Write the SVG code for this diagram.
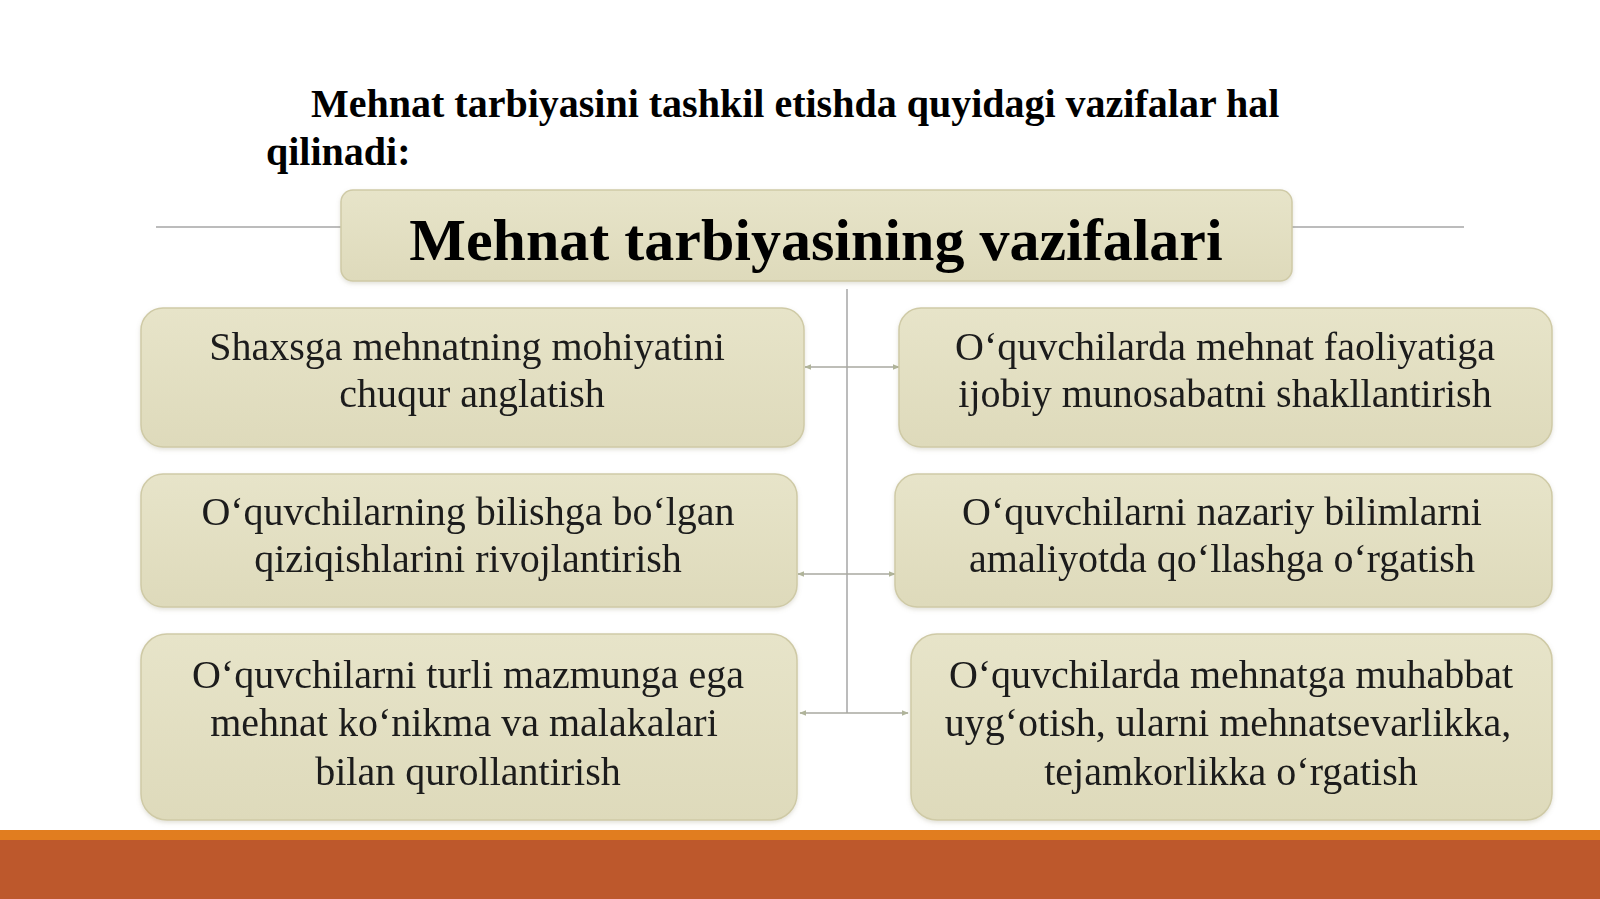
<svg xmlns="http://www.w3.org/2000/svg" width="1600" height="899" viewBox="0 0 1600 899">
<style>
.box{fill:url(#bg);stroke:#cfcaa6;stroke-width:1.5}
.t{font-family:"Liberation Serif","Times New Roman",serif;font-size:40px;fill:#1a1a1a;text-anchor:middle}
.title{font-family:"Liberation Serif","Times New Roman",serif;font-size:40px;font-weight:bold;fill:#000}
.head{font-family:"Liberation Serif","Times New Roman",serif;font-size:60px;font-weight:bold;fill:#000;text-anchor:middle}
.ln{stroke:#a6a6a6;stroke-width:1.5;fill:none}
.cn{stroke:#a8a8a0;stroke-width:1.5;fill:none;marker-start:url(#ah);marker-end:url(#ah)}
</style>
<defs>
<linearGradient id="bg" x1="0" y1="0" x2="0" y2="1">
<stop offset="0" stop-color="#e7e4c9"/>
<stop offset="1" stop-color="#dedabb"/>
</linearGradient>
<filter id="sh" x="-5%" y="-5%" width="110%" height="115%">
<feDropShadow dx="0" dy="2" stdDeviation="2" flood-color="#8a8660" flood-opacity="0.25"/>
</filter>
<marker id="ah" viewBox="0 0 10 10" refX="9" refY="5" markerWidth="7" markerHeight="7" orient="auto-start-reverse" markerUnits="userSpaceOnUse">
<path d="M0,1 L10,5 L0,9 Z" fill="#b0b49a"/>
</marker>
</defs>
<rect width="1600" height="899" fill="#ffffff"/>
<g id="title">
<text class="title" x="311" y="117">Mehnat tarbiyasini tashkil etishda quyidagi vazifalar hal</text>
<text class="title" x="266" y="165">qilinadi:</text>
</g>
<g id="connectors">
<line class="ln" x1="156" y1="227" x2="341" y2="227"/>
<line class="ln" x1="1292" y1="227" x2="1464" y2="227"/>
<line class="ln" x1="847" y1="289" x2="847" y2="713"/>
<line class="cn" x1="805" y1="367" x2="899" y2="367"/>
<line class="cn" x1="798" y1="574" x2="895" y2="574"/>
<line class="cn" x1="800" y1="713" x2="908" y2="713"/>
</g>
<g id="header" filter="url(#sh)">
<rect class="box" x="341" y="190" width="951" height="91" rx="12"/>
<text class="head" x="816" y="260">Mehnat tarbiyasining vazifalari</text>
</g>
<g id="node-l1" filter="url(#sh)">
<rect class="box" x="141" y="308" width="663" height="139" rx="22"/>
<text class="t" x="467" y="360">Shaxsga mehnatning mohiyatini</text>
<text class="t" x="472" y="407">chuqur anglatish</text>
</g>
<g id="node-r1" filter="url(#sh)">
<rect class="box" x="899" y="308" width="653" height="139" rx="22"/>
<text class="t" x="1225" y="360">O‘quvchilarda mehnat faoliyatiga</text>
<text class="t" x="1225" y="407">ijobiy munosabatni shakllantirish</text>
</g>
<g id="node-l2" filter="url(#sh)">
<rect class="box" x="141" y="474" width="656" height="133" rx="22"/>
<text class="t" x="468" y="525">O‘quvchilarning bilishga bo‘lgan</text>
<text class="t" x="468" y="572">qiziqishlarini rivojlantirish</text>
</g>
<g id="node-r2" filter="url(#sh)">
<rect class="box" x="895" y="474" width="657" height="133" rx="22"/>
<text class="t" x="1222" y="525">O‘quvchilarni nazariy bilimlarni</text>
<text class="t" x="1222" y="572">amaliyotda qo‘llashga o‘rgatish</text>
</g>
<g id="node-l3" filter="url(#sh)">
<rect class="box" x="141" y="634" width="656" height="186" rx="26"/>
<text class="t" x="468" y="688">O‘quvchilarni turli mazmunga ega</text>
<text class="t" x="464" y="736">mehnat ko‘nikma va malakalari </text>
<text class="t" x="468" y="785">bilan qurollantirish</text>
</g>
<g id="node-r3" filter="url(#sh)">
<rect class="box" x="911" y="634" width="641" height="186" rx="26"/>
<text class="t" x="1231" y="688">O‘quvchilarda mehnatga muhabbat</text>
<text class="t" x="1228" y="736">uyg‘otish, ularni mehnatsevarlikka,</text>
<text class="t" x="1231" y="785">tejamkorlikka o‘rgatish</text>
</g>
<g id="footer">
<rect x="0" y="830" width="1600" height="10" fill="#e17d1f"/>
<rect x="0" y="840" width="1600" height="59" fill="#bd582c"/>
</g>
</svg>
